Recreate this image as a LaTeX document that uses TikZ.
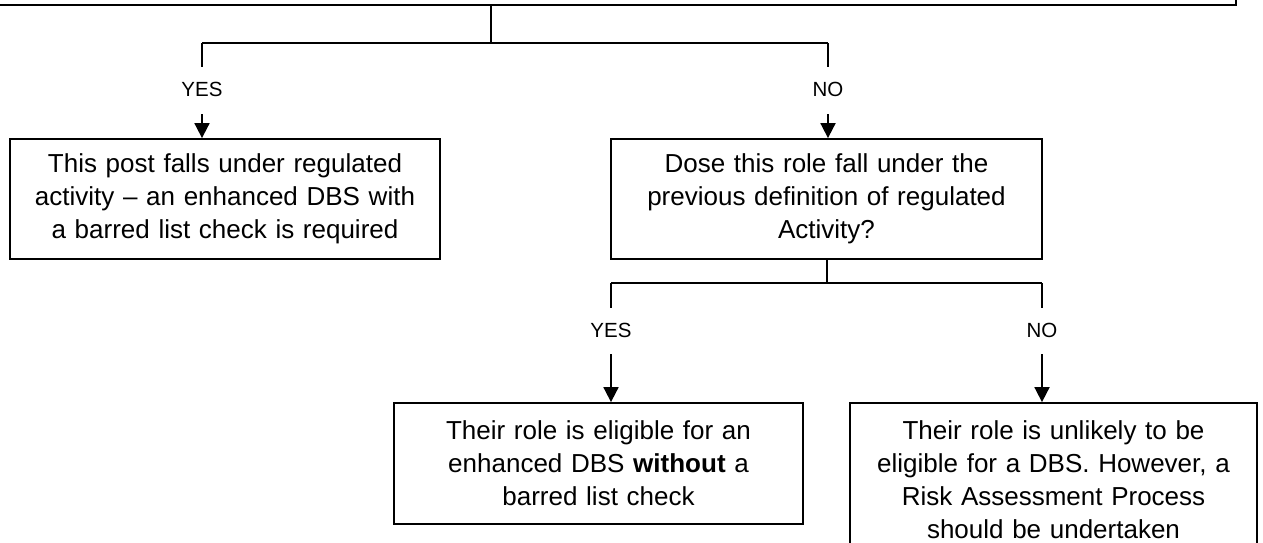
\documentclass[tikz,border=0pt]{standalone}
\usepackage{fontspec}
\setmainfont{Liberation Sans}
\usetikzlibrary{arrows.meta}
\begin{document}
\begin{tikzpicture}[x=1pt,y=-1pt,
  box/.style={draw, line width=1.8pt, align=center, inner sep=0pt, font=\fontsize{26}{33}\selectfont},
  lbl/.style={font=\fontsize{20.5}{24}\selectfont, inner sep=0pt},
  ln/.style={line width=1.8pt},
  arr/.style={line width=1.8pt, -{Triangle[width=15pt,length=15pt]}}]
\useasboundingbox (0,0) rectangle (1263,542);
\clip (0,0) rectangle (1263,542);
% top box (mostly outside the picture)
\node[box, minimum width=1276pt, minimum height=100pt] (top) at (598,-45) {};
% first level boxes
\node[box, minimum width=430pt, minimum height=120pt, text width=425pt] (b1) at (225,199)
  {This post falls under regulated\\activity -- an enhanced DBS with\\a barred list check is required};
\node[box, minimum width=431pt, minimum height=120pt, text width=425pt] (b2) at (826.5,199)
  {Dose this role fall under the\\previous definition of regulated\\Activity?};
% second level boxes
\node[box, minimum width=409pt, minimum height=121pt, text width=400pt] (b3) at (598.5,463.5)
  {Their role is eligible for an\\enhanced DBS \textbf{without} a\\barred list check};
\node[box, minimum width=407pt, minimum height=154pt, text width=400pt] (b4) at (1053.5,480)
  {Their role is unlikely to be\\eligible for a DBS. However, a\\Risk Assessment Process\\should be undertaken};
% first branch
\coordinate (j1) at (491,43);
\coordinate (y1) at (202,43);
\coordinate (n1) at (828,43);
\draw[ln] (top.south -| j1) -- (j1);
\draw[ln] (y1) -- (n1);
\draw[ln] (y1) -- ++(0,24);
\draw[ln] (n1) -- ++(0,24);
\node[lbl] (yes1) at (202,89) {YES};
\node[lbl] (no1) at (828,89) {NO};
\draw[arr] (yes1.south) ++(0,18) -- (yes1.south |- b1.north);
\draw[arr] (no1.south) ++(0,18) -- (no1.south |- b2.north);
% second branch
\coordinate (j2) at (827,283);
\coordinate (y2) at (611,283);
\coordinate (n2) at (1042,283);
\draw[ln] (b2.south -| j2) -- (j2);
\draw[ln] (y2) -- (n2);
\draw[ln] (y2) -- ++(0,25);
\draw[ln] (n2) -- ++(0,25);
\node[lbl] (yes2) at (611,330) {YES};
\node[lbl] (no2) at (1042,330) {NO};
\draw[arr] (yes2.south) ++(0,17) -- (yes2.south |- b3.north);
\draw[arr] (no2.south) ++(0,17) -- (no2.south |- b4.north);
\end{tikzpicture}
\end{document}
